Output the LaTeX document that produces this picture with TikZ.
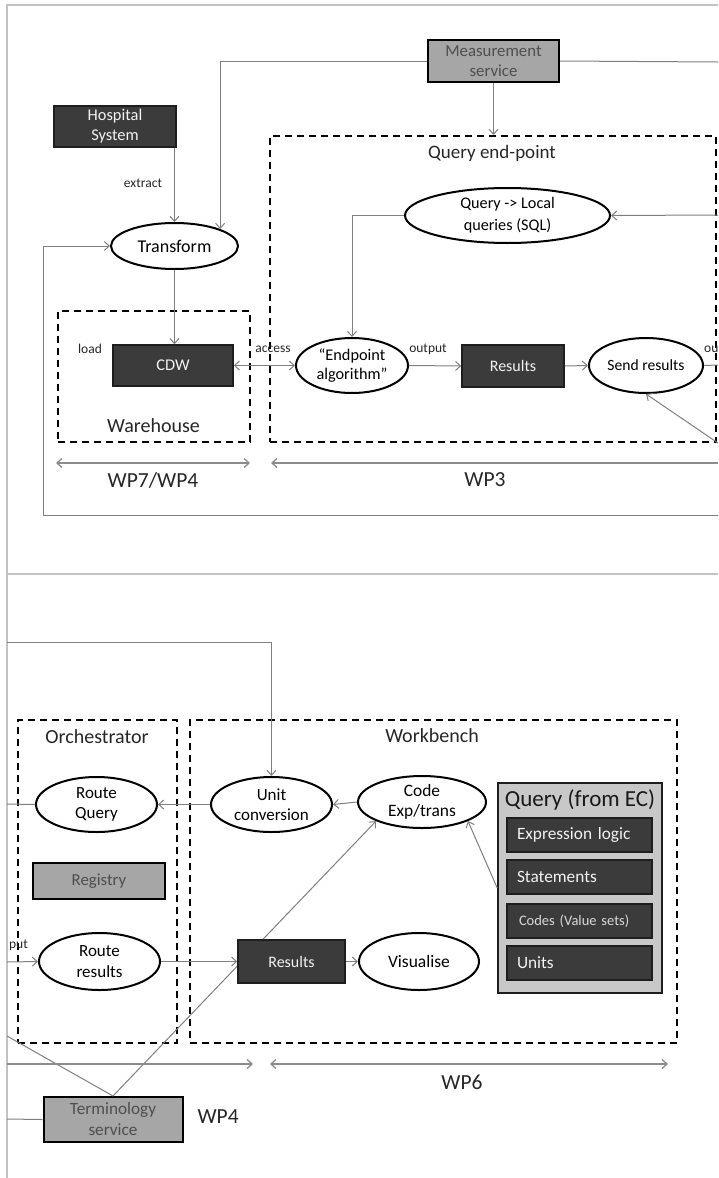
\documentclass[tikz,border=0pt]{standalone}
\usepackage{fontspec}
\setmainfont{Carlito}
\usetikzlibrary{arrows.meta, shapes.geometric}
\definecolor{darkfill}{HTML}{3B3B3B}
\definecolor{darkline}{HTML}{1E1E1E}
\definecolor{midgray}{HTML}{A6A6A6}
\definecolor{graytext}{HTML}{4E4E4E}
\definecolor{panelgray}{HTML}{C8C8C8}
\definecolor{linegray}{HTML}{7F7F7F}
\definecolor{wpgray}{HTML}{8C8C8C}
\definecolor{framegray}{HTML}{C2C2C2}
\definecolor{softwhite}{HTML}{F2F2F2}

\begin{document}
\begin{tikzpicture}[x=1pt, y=-1pt, >={Straight Barb[length=5pt, width=9pt]},
  darkbox/.style={draw=darkline, fill=darkfill, text=softwhite, line width=1.5pt,
    inner sep=0pt, align=center, font=\fontsize{16.4}{20}\selectfont},
  graybox/.style={draw=black, fill=midgray, text=graytext, line width=2pt,
    inner sep=0pt, align=center, font=\fontsize{16.8}{20.5}\selectfont},
  proc/.style={ellipse, draw=black, fill=white, line width=2pt, inner sep=0pt,
    align=center, font=\fontsize{17}{20.5}\selectfont},
  dashbox/.style={draw=black, dash pattern=on 7pt off 5pt, line width=2pt, inner sep=0pt},
  itembox/.style={draw=darkline, fill=darkfill, text=softwhite, line width=1.5pt,
    inner xsep=10pt, inner ysep=0pt, text width=125pt, minimum height=34pt,
    align=left, font=\fontsize{17.3}{20}\selectfont},
  conn/.style={draw=linegray, line width=1pt},
  wp/.style={draw=wpgray, line width=1.3pt},
  lbl/.style={font=\fontsize{13.5}{15}\selectfont, text=black!85},
  area/.style={font=\fontsize{20}{23}\selectfont, text=black!85},
  wplbl/.style={font=\fontsize{21.5}{24}\selectfont, text=black!85}]

\useasboundingbox (0,0) rectangle (718,1178);

% Screenshot frame
\draw[framegray, line width=1.2pt] (7,1178) -- (7,5) -- (718,5);
\draw[framegray, line width=1.2pt] (7,574) -- (718,574);

% ── Upper half ──
\begin{scope}
  \clip (0,0) rectangle (718,574);

  % Dashed areas
  \node[dashbox, minimum width=192, minimum height=131] (whouse) at (154,376.5) {};
  \node[dashbox, minimum width=446, minimum height=306] (qend) at (493,289) {};
  \node[area] at (153.5,426) {Warehouse};
  \node[area, font=\fontsize{19}{22}\selectfont] at (492,153) {Query end-point};

  % Boxes
  \node[darkbox, minimum width=122, minimum height=41] (hospital) at (115,126.5) {Hospital\\System};
  \node[graybox, minimum width=131, minimum height=42] (measure) at (493.5,61) {Measurement\\service};
  \node[darkbox, minimum width=120, minimum height=41] (cdw) at (173,365.5) {CDW};
  \node[darkbox, minimum width=102, minimum height=42, font=\fontsize{16}{19}\selectfont]
    (resultsA) at (513,366) {Results};

  % Processes
  \node[proc, minimum width=127, minimum height=46, font=\fontsize{18}{21}\selectfont]
    (transform) at (174.5,246) {Transform};
  \node[proc, minimum width=205, minimum height=55, font=\fontsize{16.2}{22}\selectfont]
    (qlocal) at (507.5,215.5) {Query -> Local\\queries (SQL)};
  \node[proc, minimum width=112, minimum height=55, font=\fontsize{16.3}{19.5}\selectfont]
    (endpoint) at (352,365.5) {“Endpoint\\algorithm”};
  \node[proc, minimum width=114, minimum height=55, font=\fontsize{15.6}{19}\selectfont]
    (sendres) at (646,365.5) {Send results};

  % Free ends at the cut
  \coordinate (edgeM) at (718,62);
  \coordinate (edgeQ) at (718,215);
  \coordinate (edgeO) at (718,365);
  \coordinate (edgeS) at (718,443);
  \coordinate (edgeL) at (718,515);

  % Connectors
  \draw[conn, ->] (hospital.south -| transform.north) -- (transform.north);
  \draw[conn, ->] (measure.west) -| (transform.north east);
  \draw[conn] (measure.east) -- (edgeM);
  \draw[conn, ->] (measure.south) -- (measure.south |- qend.north);
  \draw[conn, ->] (edgeL) -| ([xshift=-67pt]transform.west) -- (transform.west);
  \draw[conn, ->] (transform.south) -- (transform.south |- cdw.north);
  \draw[conn, ->] (edgeQ) -- (qlocal.east);
  \draw[conn, ->] (qlocal.west) -| (endpoint.north);
  \draw[conn, <->] (cdw.east) -- (endpoint.west);
  \draw[conn, ->] (endpoint.east) -- (resultsA.west);
  \draw[conn, ->] (resultsA.east) -- (sendres.west);
  \draw[conn] (sendres.east) -- (edgeO);
  \draw[conn, ->] (edgeS) -- (sendres.south);

  % Connector labels
  \node[lbl] at (143,183) {extract};
  \node[lbl] at (90,349) {load};
  \node[lbl] at (273,349) {access};
  \node[lbl] at (428,349) {output};
  \node[lbl, anchor=west, inner sep=1pt] at (703,349) {ou};

  % Work packages
  \draw[wp, <->] (56,463) -- (250,463);
  \draw[wp, <-] (271,463) -- (718,463);
  \node[wplbl] at (153,480) {WP7/WP4};
  \node[wplbl] at (485,480) {WP3};
\end{scope}

% ── Lower half ──
\begin{scope}
  \clip (0,574) rectangle (718,1178);

  % Dashed areas
  \node[dashbox, minimum width=159, minimum height=323] (orch) at (97.5,881.5) {};
  \node[dashbox, minimum width=487, minimum height=323] (workb) at (433.5,881.5) {};
  \node[area] at (97,737) {Orchestrator};
  \node[area] at (432,736) {Workbench};

  % Processes
  \node[proc, minimum width=121, minimum height=55] (routeq) at (96.5,804.5) {Route\\Query};
  \node[proc, minimum width=121, minimum height=55] (unitconv) at (271.5,804.5) {Unit\\conversion};
  \node[proc, minimum width=128, minimum height=52, font=\fontsize{17.4}{20}\selectfont]
    (codeexp) at (422,802) {Code\\Exp/trans};
  \node[proc, minimum width=121, minimum height=57] (routeres) at (99.5,961.5) {Route\\results};
  \node[proc, minimum width=120, minimum height=57, font=\fontsize{17.5}{20}\selectfont]
    (visualise) at (419,961.5) {Visualise};

  % Boxes
  \node[graybox, minimum width=132, minimum height=36] (registry) at (99,881) {Registry};
  \node[graybox, minimum width=139, minimum height=45, font=\fontsize{17.2}{21}\selectfont]
    (termserv) at (113,1119.5) {Terminology\\service};

  % Query panel
  \node[draw=darkline, fill=panelgray, line width=1.5pt, minimum width=164,
    minimum height=210, inner sep=0pt] (queryec) at (580,888) {};
  \node[font=\fontsize{23}{26}\selectfont, text=black!90] (qtitle) at (580,800) {Query (from EC)};
  \node[itembox] (explogic) at (579.5,835) {Expression logic};
  \node[itembox] (statem) at (579.5,877) {Statements};
  \node[itembox, font=\fontsize{14.5}{17}\selectfont, text=black!15] (codes) at (579.5,921)
    {\hspace*{2pt}Codes (Value sets)};
  \node[itembox] (units) at (579.5,963) {Units};

  % Free ends at the cut
  \coordinate (cutU) at (7,642);
  \coordinate (cutQ) at (7,804);
  \coordinate (cutR) at (7,962);
  \coordinate (cutT) at (7,1119);
  \coordinate (cutD) at (7,1036);

  % Connectors (line to Code passes under the Results box)
  \draw[conn, ->] (termserv.north) -- (codeexp.south west);
  \draw[conn] (termserv.north) -- (cutD);
  \node[darkbox, minimum width=107, minimum height=43, font=\fontsize{16}{19}\selectfont]
    (resultsB) at (291.5,961.5) {Results};

  \draw[conn, ->] (cutU) -| (unitconv.north);
  \draw[conn] (cutQ) -- (routeq.west);
  \draw[conn, ->] (unitconv.west) -- (routeq.east);
  \draw[conn, ->] (codeexp.west) -- (unitconv.east);
  \draw[conn, ->] (queryec.west) -- (codeexp.south east);
  \draw[conn, ->] (cutR) -- (routeres.west);
  \draw[conn, ->] (routeres.east) -- (resultsB.west);
  \draw[conn, ->] (resultsB.east) -- (visualise.west);
  \draw[conn] (cutT) -- (termserv.west);

  % Connector labels
  \node[lbl, anchor=east, inner sep=1pt] at (29,945) {put};

  % Work packages
  \draw[wp, ->] (7,1064) -- (253,1064);
  \draw[wp, <->] (270,1064) -- (668,1064);
  \node[wplbl] at (462,1082) {WP6};
  \node[wplbl, anchor=west] at (194,1117) {WP4};
\end{scope}

\end{tikzpicture}
\end{document}
